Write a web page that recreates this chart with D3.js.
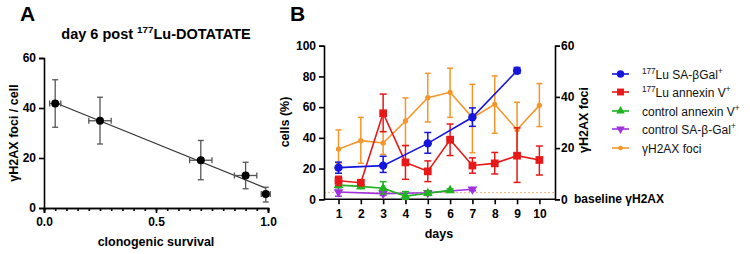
<!DOCTYPE html>
<html><head><meta charset="utf-8">
<script src="https://cdn.jsdelivr.net/npm/d3@7"></script>
<style>
html,body{margin:0;padding:0;background:#fff;}
text{font-family:"Liberation Sans",Arial,sans-serif;}
</style></head>
<body><svg id="c" width="750" height="254"></svg>
<script>
// ---------- Panel A data ----------
const survival   = [0.05, 0.25, 0.70, 0.90, 0.99];
const survivalErr= [0.025,0.05, 0.05, 0.05, 0.02];
const fociA      = [41.8, 34.9, 19.1, 13.0, 5.6];
const fociAErrLo = [32.3, 25.6, 11.3, 7.7, 2.4];
const fociAErrHi = [51.3, 44.3, 27.0, 18.3, 8.3];
const regression = [43.9, -36.3]; // intercept, slope
const regRange   = [0.05, 0.99];
const xTicksA = [0, 0.5, 1.0];
const yTicksA = [0, 20, 40, 60];

// ---------- Panel B data ----------
const days = [1,2,3,4,5,6,7,8,9,10];
const luSaDays = [1,3,5,7,9];
const luSa     = [20.6, 21.9, 36.4, 53.4, 83.7];
const luSaLo   = [17.0, 17.5, 30.0, 47.5, 82.0];
const luSaHi   = [24.2, 28.0, 43.5, 59.5, 85.8];
const luAnnDays= [1,2,3,4,5,6,7,8,9,10];
const luAnn    = [12.1, 10.8, 56.0, 24.0, 18.2, 38.8, 22.0, 23.4, 28.4, 25.6];
const luAnnLo  = [9.0, 9.6, 44.0, 13.0, 11.5, 28.5, 17.0, 16.5, 11.0, 15.8];
const luAnnHi  = [15.0, 12.0, 68.5, 35.0, 25.0, 49.0, 27.0, 30.5, 46.5, 34.7];
const ctlAnnDays=[1,2,3,4,5,6];
const ctlAnn   = [9.2, 8.4, 7.2, 2.1, 3.9, 5.8];
const ctlAnnLo = [7.5, 7.0, 3.5, 0.0, 2.5, 4.8];
const ctlAnnHi = [10.5, 9.8, 11.5, 5.0, 5.3, 6.8];
const ctlSaDays= [1,3,5,7];
const ctlSa    = [4.8, 3.7, 4.3, 6.5];
const ctlSaLo  = [2.0, 2.5, 3.3, 5.5];
const ctlSaHi  = [7.8, 4.9, 5.3, 7.5];
const fociDays = [1,2,3,4,5,6,7,8,9,10];
const foci     = [19.6, 22.9, 22.0, 30.6, 39.7, 41.8, 31.9, 37.1, 27.2, 36.7];
const fociLo   = [14.1, 14.1, 17.5, 21.0, 30.2, 32.0, 18.2, 25.8, 16.0, 28.4];
const fociHi   = [27.1, 32.0, 26.5, 39.6, 49.2, 51.2, 44.9, 48.2, 37.9, 45.2];
const baselineFoci = 2.6;
const yTicksL = [0,20,40,60,80,100];
const yTicksR = [0,20,40,60];
const legendNames = [
  [["177","sup"],["Lu SA-βGal",""],["+","sup"]],
  [["177","sup"],["Lu annexin V",""],["+","sup"]],
  [["control annexin V",""],["+","sup"]],
  [["control SA-β-Gal",""],["+","sup"]],
  [["γH2AX foci",""]]
];

const svg = d3.select("#c");
const F = '"Liberation Sans",Arial,sans-serif';

function richText(sel, parts, size){
  parts.forEach(([t,k])=>{
    if(k==="sup") sel.append("tspan").attr("font-size",size*0.68).attr("baseline-shift","65%").text(t);
    else sel.append("tspan").text(t);
  });
}

// ================= Panel A =================
const xA = d3.scaleLinear().domain([0,1]).range([44,268]);
const yA = d3.scaleLinear().domain([0,60]).range([208,58]);
const gA = svg.append("g");

gA.append("text").attr("x",20).attr("y",21).attr("font-size",21).attr("font-weight","bold").text("A");
const tA = gA.append("text").attr("x",156).attr("y",39).attr("text-anchor","middle").attr("font-size",14.5).attr("font-weight","bold");
richText(tA,[["day 6 post ",""],["177","sup"],["Lu-DOTATATE",""]],14.5);

gA.append("g").attr("transform","translate(0,208)")
  .call(d3.axisBottom(xA).tickValues(xTicksA).tickFormat(d3.format(".1f")).tickSize(5).tickPadding(4));
gA.append("g").attr("transform","translate(0,208)")
  .call(d3.axisBottom(xA).tickValues(d3.range(0,1.0001,0.05)).tickFormat("").tickSize(3));
gA.append("g").attr("transform","translate(44,0)")
  .call(d3.axisLeft(yA).tickValues(yTicksA).tickSize(5).tickPadding(3));
gA.selectAll(".domain,.tick line").attr("stroke","#000").attr("stroke-width",1.6);
gA.selectAll(".tick text").attr("font-size",12).attr("font-weight","bold").attr("font-family",F).attr("fill","#000");
gA.append("text").attr("x",156).attr("y",246).attr("text-anchor","middle").attr("font-size",12.5).attr("font-weight","bold").text("clonogenic survival");
gA.append("text").attr("transform","translate(18,133) rotate(-90)").attr("text-anchor","middle").attr("font-size",12.5).attr("font-weight","bold").text("γH2AX foci / cell");

gA.append("line")
  .attr("x1",xA(regRange[0])).attr("y1",yA(regression[0]+regression[1]*regRange[0]))
  .attr("x2",xA(regRange[1])).attr("y2",yA(regression[0]+regression[1]*regRange[1]))
  .attr("stroke","#333").attr("stroke-width",1.2);
const ptsA = survival.map((s,i)=>({x:s,xe:survivalErr[i],y:fociA[i],lo:fociAErrLo[i],hi:fociAErrHi[i]}));
const eb = gA.append("g").attr("stroke","#555").attr("stroke-width",1.3);
ptsA.forEach(p=>{
  eb.append("line").attr("x1",xA(p.x)).attr("x2",xA(p.x)).attr("y1",yA(p.lo)).attr("y2",yA(p.hi));
  eb.append("line").attr("x1",xA(p.x)-3).attr("x2",xA(p.x)+3).attr("y1",yA(p.lo)).attr("y2",yA(p.lo));
  eb.append("line").attr("x1",xA(p.x)-3).attr("x2",xA(p.x)+3).attr("y1",yA(p.hi)).attr("y2",yA(p.hi));
  eb.append("line").attr("x1",xA(p.x-p.xe)).attr("x2",xA(p.x+p.xe)).attr("y1",yA(p.y)).attr("y2",yA(p.y));
  eb.append("line").attr("x1",xA(p.x-p.xe)).attr("x2",xA(p.x-p.xe)).attr("y1",yA(p.y)-3).attr("y2",yA(p.y)+3);
  eb.append("line").attr("x1",xA(p.x+p.xe)).attr("x2",xA(p.x+p.xe)).attr("y1",yA(p.y)-3).attr("y2",yA(p.y)+3);
});
gA.selectAll("circle.pa").data(ptsA).join("circle").attr("class","pa")
  .attr("cx",d=>xA(d.x)).attr("cy",d=>yA(d.y)).attr("r",4).attr("fill","#000");

// ================= Panel B =================
const xB = d3.scaleLinear().domain([0.35,10.7]).range([324,555]);
const yL = d3.scaleLinear().domain([0,100]).range([199.3,45.7]);
const yR = d3.scaleLinear().domain([0,60]).range([199.3,45.7]);
const gB = svg.append("g");
gB.append("text").attr("x",290).attr("y",21).attr("font-size",21).attr("font-weight","bold").text("B");

gB.append("line").attr("x1",xB.range()[0]).attr("x2",xB.range()[1]).attr("y1",yR(baselineFoci)).attr("y2",yR(baselineFoci))
  .attr("stroke","#f4b27a").attr("stroke-width",1).attr("stroke-dasharray","2,2");

const axB = gB.append("g").attr("transform","translate(0,199.3)")
  .call(d3.axisBottom(xB).tickValues(days).tickFormat(d3.format("d")).tickSize(5).tickPadding(5));
axB.select(".domain").attr("d",`M${xB.range()[0]},0H${xB.range()[1]}`);
gB.append("g").attr("transform","translate(324,0)").call(d3.axisLeft(yL).tickValues(yTicksL).tickSize(5).tickPadding(3));
gB.append("g").attr("transform","translate(555,0)").call(d3.axisRight(yR).tickValues(yTicksR).tickSize(5).tickPadding(1));
gB.selectAll(".domain,.tick line").attr("stroke","#000").attr("stroke-width",1.6);
gB.selectAll(".tick text").attr("font-size",12).attr("font-weight","bold").attr("font-family",F).attr("fill","#000");
gB.append("text").attr("x",xB(5.5)).attr("y",238).attr("text-anchor","middle").attr("font-size",12.5).attr("font-weight","bold").text("days");
gB.append("text").attr("transform","translate(289,122) rotate(-90)").attr("text-anchor","middle").attr("font-size",12.5).attr("font-weight","bold").text("cells (%)");
gB.append("text").attr("transform","translate(588,120) rotate(-90)").attr("text-anchor","middle").attr("font-size",12.5).attr("font-weight","bold").text("γH2AX foci");
gB.append("text").attr("x",574).attr("y",203).attr("font-size",12).attr("font-weight","bold").text("baseline γH2AX");

const series = [
  {d:fociDays, v:foci, lo:fociLo, hi:fociHi, y:yR, c:"#f5962a", sym:"circle", size:22, cap:3},
  {d:ctlSaDays, v:ctlSa, lo:ctlSaLo, hi:ctlSaHi, y:yL, c:"#a030e0", sym:"tdown", size:40, cap:3.5},
  {d:ctlAnnDays, v:ctlAnn, lo:ctlAnnLo, hi:ctlAnnHi, y:yL, c:"#1fb31f", sym:"tup", size:40, cap:3.5},
  {d:luAnnDays, v:luAnn, lo:luAnnLo, hi:luAnnHi, y:yL, c:"#e81818", sym:"square", size:60, cap:3.5},
  {d:luSaDays, v:luSa, lo:luSaLo, hi:luSaHi, y:yL, c:"#1515dd", sym:"circleB", size:55, cap:3.5}
];
function symPath(sym,size){
  if(sym==="circle"||sym==="circleB") return d3.symbol(d3.symbolCircle,size)();
  if(sym==="square") return d3.symbol(d3.symbolSquare,size)();
  return d3.symbol(d3.symbolTriangle,size)();
}
series.forEach(s=>{
  const g = gB.append("g");
  const pts = s.d.map((d,i)=>({d, v:s.v[i], lo:s.lo[i], hi:s.hi[i]}));
  g.append("path").datum(pts).attr("fill","none").attr("stroke",s.c).attr("stroke-width",1.6)
    .attr("d",d3.line().x(p=>xB(p.d)).y(p=>s.y(p.v)));
  pts.forEach(p=>{
    const x=xB(p.d);
    g.append("line").attr("x1",x).attr("x2",x).attr("y1",s.y(p.lo)).attr("y2",s.y(p.hi)).attr("stroke",s.c).attr("stroke-width",1.5);
    [p.lo,p.hi].forEach(v=>g.append("line").attr("x1",x-s.cap).attr("x2",x+s.cap).attr("y1",s.y(v)).attr("y2",s.y(v)).attr("stroke",s.c).attr("stroke-width",1.5));
  });
  g.selectAll("path.m").data(pts).join("path").attr("class","m")
    .attr("d",symPath(s.sym,s.size))
    .attr("transform",p=>`translate(${xB(p.d)},${s.y(p.v)})${s.sym==="tdown"?" rotate(180)":""}`)
    .attr("fill",s.c);
});

// legend
const legOrder = [4,3,2,1,0];
const legY = [74,92,111,129,148];
legOrder.forEach((si,i)=>{
  const s = series[si];
  const g = svg.append("g").attr("transform",`translate(0,${legY[i]})`);
  g.append("line").attr("x1",612).attr("x2",629).attr("stroke",s.c).attr("stroke-width",1.6);
  g.append("path").attr("d",symPath(s.sym,s.size*0.8)).attr("transform",`translate(620.5,0)${s.sym==="tdown"?" rotate(180)":""}`).attr("fill",s.c);
  const t = g.append("text").attr("x",642).attr("y",4.5).attr("font-size",12).attr("fill","#111");
  richText(t, legendNames[i], 12);
});
</script></body></html>
